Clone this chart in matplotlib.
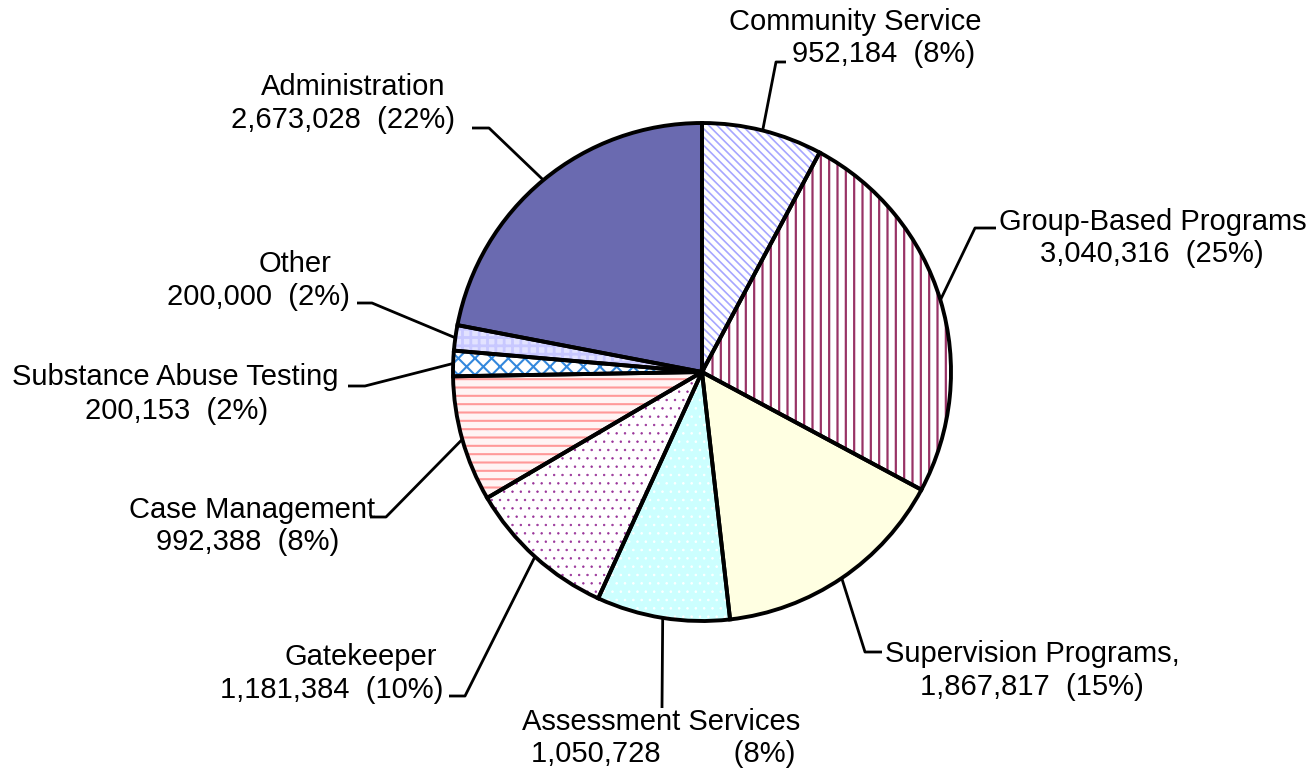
import numpy as np
import matplotlib
matplotlib.use("Agg")
import matplotlib.pyplot as plt

names = ["Community Service", "Group-Based Programs", "Supervision Programs,",
         "Assessment Services", "Gatekeeper", "Case Management",
         "Substance Abuse Testing", "Other", "Administration"]
values = [952184, 3040316, 1867817, 1050728, 1181384, 992388,
          200153, 200000, 2673028]
pcts = ["8%", "25%", "15%", "8%", "10%", "8%", "2%", "2%", "22%"]

faces = ["white", "white", "#ffffe2", "#ccffff", "white", "#fff4f4",
         "white", "#e2e2ff", "#6a6ab0"]
hatch_cols = ["#a6a6ff", "#993366", "#ffff99", "white", "#993399",
              "#ff9999", "#3388dd", "#c8c8ff", "#333399"]
hatches = ["\\\\\\\\", "||", "", "..", "..", "--", "xx", "++", ""]
hatch_lw = [1.2, 1.6, 1.0, 0.6, 0.5, 1.5, 1.5, 2.0, 1.0]
gaps = [2, 2, 2, 9, 2, 2, 2, 2, 2]

H = 777
plt.rcParams["font.family"] = ["Liberation Sans", "DejaVu Sans"]
plt.rcParams["hatch.linewidth"] = 1.5

fig = plt.figure(figsize=(13.13, 7.77), dpi=100)
ax = fig.add_axes([0, 0, 1, 1])

cx, cy, r = 702, H - 372, 249

# filled / hatched wedges, hatch colour comes from edgecolor
wedges, _ = ax.pie(values, startangle=90, counterclock=False,
                   center=(cx, cy), radius=r, frame=True,
                   wedgeprops=dict(linewidth=0))
for w, fc, hc, h, hl in zip(wedges, faces, hatch_cols, hatches, hatch_lw):
    w.set_facecolor(fc)
    w.set_edgecolor(hc)
    w.set_hatch(h)
    if hasattr(w, "set_hatch_linewidth"):
        w.set_hatch_linewidth(hl)

# black outlines on top
ax.pie(values, startangle=90, counterclock=False,
       center=(cx, cy), radius=r, frame=True,
       wedgeprops=dict(fill=False, edgecolor="black", linewidth=2.8))
ax.set_xlim(0, 1313)
ax.set_ylim(0, H)
ax.set_aspect("equal")
ax.axis("off")

# leader line elbows and ends (pixel coords, y down)
elbows = [(776, 62), (975, 228), (865, 652), (662, 708), (465, 696),
          (386, 517), (365, 386), (372, 303), (489, 128)]
ends = [(786, 62), (996, 228), (882, 652), (662, 708), (449, 696),
        (370, 517), (348, 386), (357, 303), (472, 128)]
# text line centres x and baselines y (pixels)
name_pos = [(855, 30), (1153, 230), (1032, 662), (661, 730), (361, 665),
            (252, 518), (175, 385), (295, 272), (353, 95)]
val_pos = [(884, 62), (1152, 262), (1032, 695), (663, 762), (332, 698),
           (248, 550), (177, 419), (258, 305), (343, 128)]

for i, w in enumerate(wedges):
    a = np.deg2rad((w.theta1 + w.theta2) / 2)
    sx, sy = cx + r * np.cos(a), cy + r * np.sin(a)
    xs = [sx, elbows[i][0], ends[i][0]]
    ys = [sy, H - elbows[i][1], H - ends[i][1]]
    ax.plot(xs, ys, color="black", lw=2.0, solid_capstyle="butt", zorder=0)
    ax.text(name_pos[i][0], H - name_pos[i][1], names[i], ha="center",
            va="baseline", fontsize=21)
    ax.text(val_pos[i][0], H - val_pos[i][1],
            f"{values[i]:,}" + " " * gaps[i] + f"({pcts[i]})",
            ha="center", va="baseline", fontsize=21)

fig.savefig("out.png", dpi=100)
